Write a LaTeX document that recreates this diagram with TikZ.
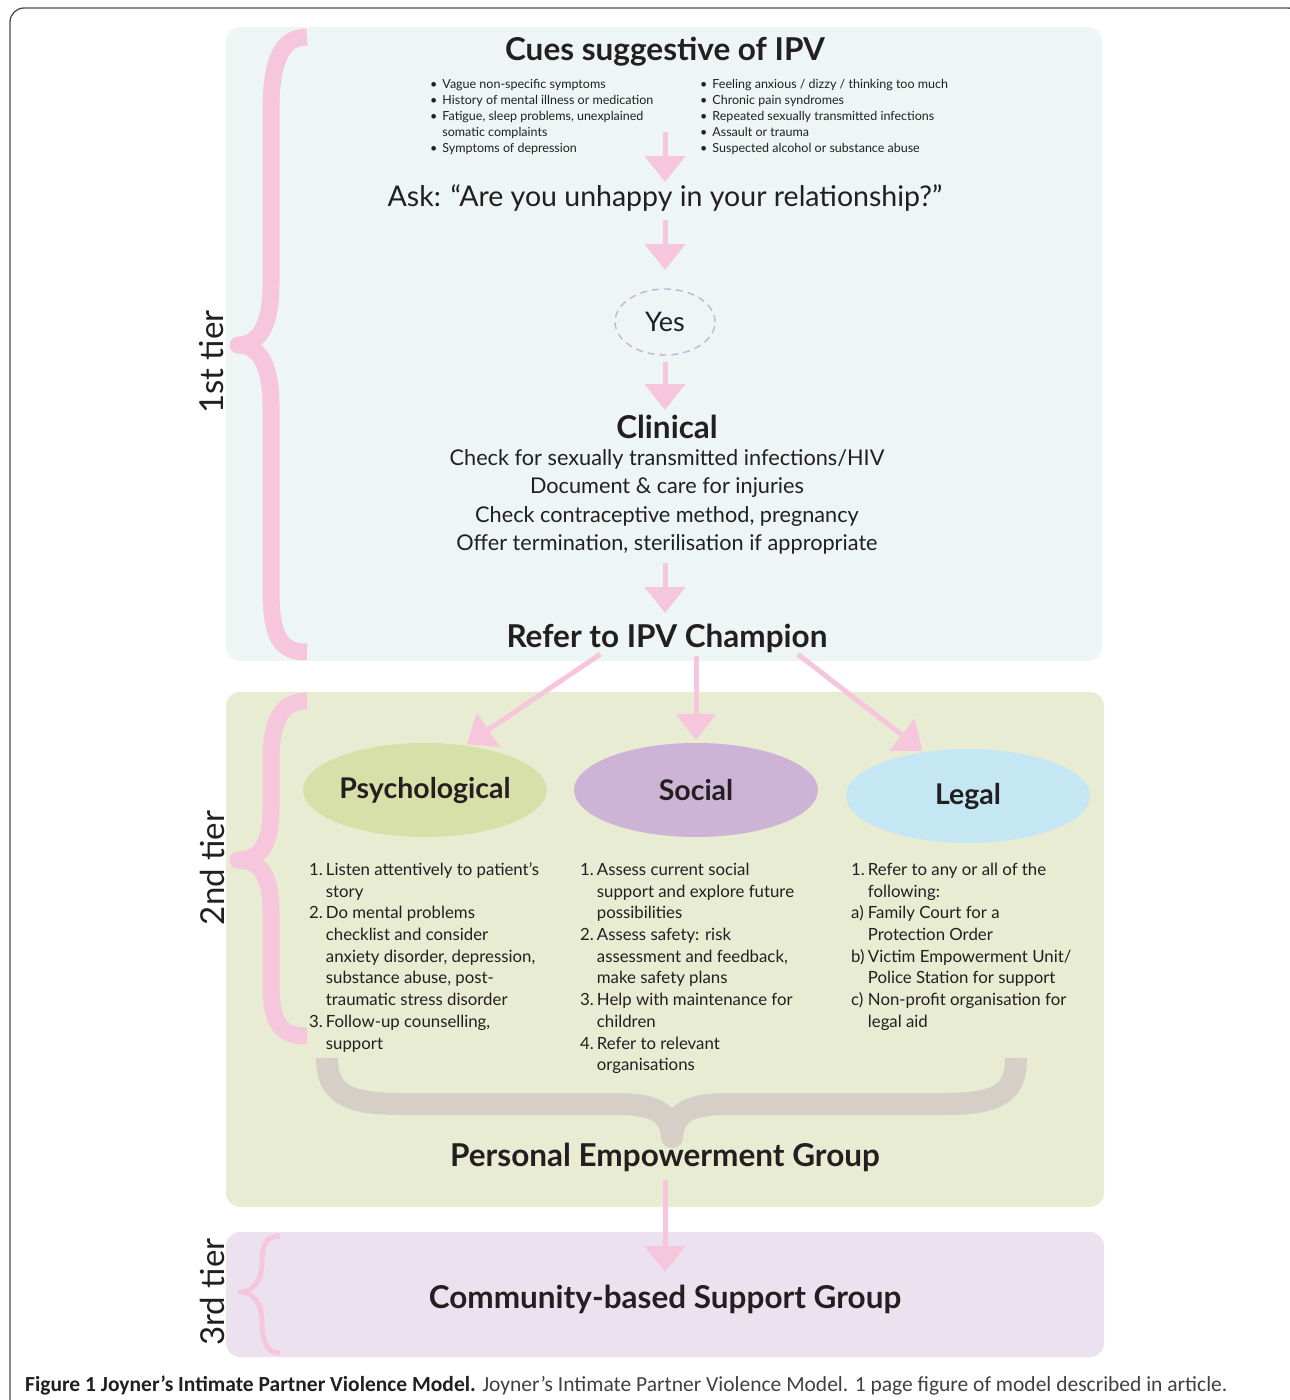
\documentclass[tikz,border=0pt]{standalone}
\usepackage{fontspec}
\setmainfont{Lato}
\newfontfamily\capfont{Carlito}
\usetikzlibrary{arrows.meta,calc,shapes.geometric}

\definecolor{ipvtext}{HTML}{231F20}
\definecolor{tierone}{HTML}{EDF6F4}
\definecolor{tiertwo}{HTML}{E8ECD3}
\definecolor{tierthree}{HTML}{ECE1EF}
\definecolor{ipvpink}{HTML}{F6C7DC}
\definecolor{psychfill}{HTML}{D8E0A9}
\definecolor{socialfill}{HTML}{CDB4D6}
\definecolor{legalfill}{HTML}{C5E6F3}
\definecolor{bracegrey}{HTML}{D6CFC8}
\definecolor{yesline}{HTML}{C8B4DA}

\tikzset{
  tierbox/.style={fill=#1, draw=none, rounded corners=14pt},
  tierbrace/.style={draw=ipvpink, line width=#1, line join=round},
  tierlabel/.style={rotate=90, text=ipvtext, font=\fontsize{33}{36}\selectfont},
  pinkarrow/.style={draw=ipvpink, line width=5pt, -{Triangle[width=40pt,length=26pt]}},
  heading/.style={text=ipvtext, inner sep=0pt, font=\bfseries\fontsize{31.5}{35}\selectfont},
  cuelist/.style={text=ipvtext, inner sep=0pt, anchor=north west, font=\fontsize{12.5}{16}\selectfont},
  steplist/.style={text=ipvtext, inner sep=0pt, anchor=north west, font=\fontsize{16.8}{21.7}\selectfont},
  helpnode/.style={ellipse, fill=#1, minimum width=244pt, minimum height=94pt, inner sep=0pt,
    text=ipvtext, font=\bfseries\fontsize{28.5}{32}\selectfont}
}

\begin{document}
\begin{tikzpicture}[x=1pt, y=-1pt]
  \useasboundingbox (0,0) rectangle (1290,1400);
  \clip (0,0) rectangle (1290,1400);

  % outer frame
  \draw[black!70, line width=1.3pt, rounded corners=14pt] (10,8) rectangle (1302,1420);

  % tier boxes
  \fill[tierbox=tierone] (226,27) rectangle (1102,661);
  \fill[tierbox=tiertwo] (226,692) rectangle (1104,1207);
  \fill[tierbox=tierthree] (226,1232) rectangle (1104,1357);

  % braces
  \draw[tierbrace=17pt] (307,37) .. controls (282,37) and (271,60) .. (271,110) -- (271,285)
    .. controls (271,330) and (256,345) .. (238,345) .. controls (256,345) and (271,360) .. (271,405)
    -- (271,590) .. controls (271,640) and (282,652) .. (307,652);
  \draw[tierbrace=17pt] (307,701) .. controls (282,701) and (271,720) .. (271,760) -- (271,810)
    .. controls (271,850) and (256,860) .. (238,860) .. controls (256,860) and (271,870) .. (271,910)
    -- (271,985) .. controls (271,1025) and (282,1036) .. (307,1036);
  \draw[tierbrace=5pt] (280,1236) .. controls (266,1236) and (262,1245) .. (262,1262)
    .. controls (262,1282) and (252,1292) .. (240,1292) .. controls (252,1292) and (262,1302) .. (262,1322)
    .. controls (262,1340) and (266,1353) .. (280,1353);
  \draw[draw=bracegrey, line width=22pt, line join=round] (327,1058) .. controls (327,1092) and (345,1104) .. (400,1104)
    -- (615,1104) .. controls (655,1104) and (670,1112) .. (672,1137)
    .. controls (674,1112) and (689,1104) .. (729,1104) -- (945,1104)
    .. controls (1000,1104) and (1016,1092) .. (1016,1058);

  % tier labels
  \node[tierlabel] (tone) at (212,362) {1st tier};
  \node[tierlabel] (ttwo) at (212,868) {2nd tier};
  \node[tierlabel] (tthree) at (212,1292) {3rd tier};

  % first tier
  \node[heading] (cues) at (665,52) {Cues suggestive of IPV};
  \node[cuelist] (cuesl) at (430,77) {%
    \begin{tabular}{@{}l@{\hspace{5pt}}l@{}}
      \textbullet & Vague non-specific symptoms\\
      \textbullet & History of mental illness or medication\\
      \textbullet & Fatigue, sleep problems, unexplained\\
                  & somatic complaints\\
      \textbullet & Symptoms of depression
    \end{tabular}};
  \node[cuelist] (cuesr) at (700,77) {%
    \begin{tabular}{@{}l@{\hspace{5pt}}l@{}}
      \textbullet & Feeling anxious / dizzy / thinking too much\\
      \textbullet & Chronic pain syndromes\\
      \textbullet & Repeated sexually transmitted infections\\
      \textbullet & Assault or trauma\\
      \textbullet & Suspected alcohol or substance abuse
    \end{tabular}};
  \node[text=ipvtext, inner sep=0pt, font=\fontsize{28.5}{32}\selectfont] (ask) at (665,198)
    {Ask: “Are you unhappy in your relationship?”};
  \node[ellipse, draw=yesline, dash pattern=on 7pt off 5pt, line width=1.4pt, minimum width=100pt, minimum height=66pt,
    inner sep=0pt, text=ipvtext, font=\fontsize{27}{30}\selectfont] (yes) at (665,322) {Yes};
  \node[heading] (clin) at (667,427) {Clinical};
  \node[text=ipvtext, inner sep=0pt, anchor=north, align=center, font=\fontsize{21.7}{28.5}\selectfont]
    (clinl) at (667,449) {Check for sexually transmitted infections/HIV\\
      Document \& care for injuries\\
      Check contraceptive method, pregnancy\\
      Offer termination, sterilisation if appropriate};
  \node[heading] (refer) at (667,638) {Refer to IPV Champion};

  % second tier
  \node[helpnode=psychfill] (psy) at (425,790) {Psychological};
  \node[helpnode=socialfill] (soc) at (696,790) {Social};
  \node[helpnode=legalfill] (leg) at (968,796) {Legal};

  \node[steplist] (psyl) at (309,860) {%
    \begin{tabular}{@{}l@{\hspace{3pt}}l@{}}
      1. & Listen attentively to patient’s\\
         & story\\
      2. & Do mental problems\\
         & checklist and consider\\
         & anxiety disorder, depression,\\
         & substance abuse, post-\\
         & traumatic stress disorder\\
      3. & Follow-up counselling,\\
         & support
    \end{tabular}};
  \node[steplist] (socl) at (580,860) {%
    \begin{tabular}{@{}l@{\hspace{3pt}}l@{}}
      1. & Assess current social\\
         & support and explore future\\
         & possibilities\\
      2. & Assess safety: risk\\
         & assessment and feedback,\\
         & make safety plans\\
      3. & Help with maintenance for\\
         & children\\
      4. & Refer to relevant\\
         & organisations
    \end{tabular}};
  \node[steplist] (legl) at (851,860) {%
    \begin{tabular}{@{}l@{\hspace{3pt}}l@{}}
      1. & Refer to any or all of the\\
         & following:\\
      a) & Family Court for a\\
         & Protection Order\\
      b) & Victim Empowerment Unit/\\
         & Police Station for support\\
      c) & Non-profit organisation for\\
         & legal aid
    \end{tabular}};

  \node[heading] (peg) at (665,1157) {Personal Empowerment Group};

  % third tier
  \node[heading] (csg) at (665,1299) {Community-based Support Group};

  % arrows
  \draw[pinkarrow, shorten <=80pt, shorten >=16pt] (cues.center) -- (ask.center);
  \draw[pinkarrow, shorten <=22pt, shorten >=52pt] (ask.center) -- (yes.center);
  \draw[pinkarrow, shorten <=40pt, shorten >=17pt] (yes.center) -- (clin.center -| yes.center);
  \draw[pinkarrow, shorten <=136pt, shorten >=25pt] (clin.center -| yes.center) -- (refer.center -| yes.center);
  \draw[pinkarrow, shorten <=3pt, shorten >=2pt] ($(refer.south west)!0.3!(refer.south east)$) -- (psy.48);
  \draw[pinkarrow, shorten <=3pt, shorten >=3pt] (refer.south -| soc.north) -- (soc.north);
  \draw[pinkarrow, shorten <=3pt, shorten >=2pt] ($(refer.south west)!0.9!(refer.south east)$) -- (leg.135);
  \draw[pinkarrow, shorten <=23pt, shorten >=27pt] (peg.center) -- (csg.center);

  % caption
  \node[anchor=base west, inner sep=0pt, text=black!75, font=\capfont\fontsize{21.5}{24}\selectfont] (cap) at (25,1391)
    {\textbf{\color{ipvtext}Figure 1 Joyner’s Intimate Partner Violence Model.} Joyner’s Intimate Partner Violence Model. 1 page figure of model described in article.};
\end{tikzpicture}
\end{document}
